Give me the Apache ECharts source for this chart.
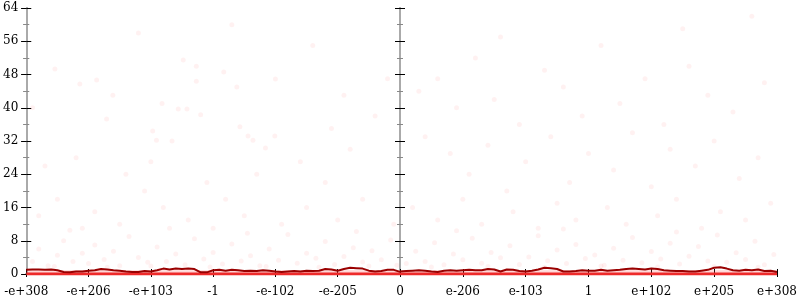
<!DOCTYPE html>
<html><head><meta charset="utf-8">
<script src="https://cdn.jsdelivr.net/npm/echarts@6/dist/echarts.min.js"></script>
<style>html,body{margin:0;padding:0;background:#fff}#c{width:800px;height:300px}</style>
</head><body><div id="c"></div>
<script>
// tick labels
const leftLabels = ["-e+308","-e+206","-e+103","-1","-e-102","-e-205","0"];
const rightLabels = ["0","e-206","e-103","1","e+102","e+205","e+308"];
const yTicks = [0,8,16,24,32,40,48,56,64];
// sampling step of the line (in tick units)
const lineStep = 0.1;
// dark red line, left panel (61 samples across 6 ticks)
const leftLine = [1.0,1.1,1.1,1.0,1.1,0.9,0.5,0.4,0.6,0.6,0.8,0.9,1.2,1.1,0.9,0.8,0.6,0.5,0.5,0.7,
  0.6,0.9,1.3,1.1,1.3,1.2,1.3,1.2,0.4,0.4,0.9,1.0,0.8,1.0,0.9,0.7,0.8,0.7,0.9,0.8,
  0.6,0.5,0.6,0.7,0.6,0.8,0.7,0.8,1.2,1.1,0.8,1.2,1.5,1.4,1.3,0.8,0.6,0.7,1.0,1.0,0.5];
// dark red line, right panel
const rightLine = [0.6,0.7,0.8,0.9,0.8,0.6,0.5,0.8,0.9,0.8,0.9,1.0,0.9,0.9,1.2,1.1,0.6,1.1,1.0,0.7,
  0.6,0.8,1.1,1.5,1.4,1.2,0.6,0.6,0.7,0.9,0.8,0.8,1.0,0.8,0.9,1.0,1.2,1.3,1.2,1.1,
  1.3,1.2,0.9,0.8,0.7,0.7,0.6,0.6,0.8,1.0,1.5,1.6,1.3,0.9,0.8,1.0,0.9,1.1,0.7,0.8,0.5];
// pale band near zero
const bandLevel = 0.9;
// scattered pale points [x (tick units), y]
const leftPoints = [[0.46,49.3],[0.86,45.7],[1.13,46.7],[1.39,43],[2.52,51.5],[2.73,50],[2.73,46.4],[3.17,48.6],
  [3.38,45],[4.0,46.9],[2.18,41],[2.44,39.7],[2.58,39.7],[2.8,38.3],[1.29,37.3],[2.03,34.4],[3.43,35.4],
  [3.56,33.2],[3.64,32.2],[3.99,33.2],[2.09,32.2],[2.34,32],[3.84,30.3],[0.3,26],[0.8,28],[1.6,24],[1.9,20],
  [0.5,18],[1.1,15],[2.9,22],[3.2,18],[4.4,27],[4.8,22],[5.2,30],[5.6,38],[5.1,43],[4.6,55],[5.8,47],
  [0.2,14],[0.9,11],[1.5,12],[2.2,16],[2.6,13],[3.0,11],[3.5,14],[4.1,12],[4.5,16],[5.0,13],[5.4,18],
  [5.9,12],[1.8,58],[3.3,60],[0.1,40],[4.9,35],[2.0,27],[3.7,24],
  [0.1,3],[0.2,6],[0.35,2],[0.5,4.5],[0.6,8],[0.75,3],[0.9,5],[1.0,2.5],[1.1,7],[1.25,3.5],[1.4,5.5],
  [1.5,2],[1.65,9],[1.8,4],[1.95,2.8],[2.1,6.5],[2.25,3],[2.4,4.8],[2.55,2.2],[2.7,8.5],[2.85,3.6],
  [3.0,5.2],[3.15,2.4],[3.3,7.2],[3.45,3.1],[3.6,4.4],[3.75,2],[3.9,6],[4.05,3.3],[4.2,9.5],[4.35,2.6],
  [4.5,5],[4.65,3.8],[4.8,7.8],[4.95,2.3],[5.1,4.2],[5.25,6.3],[5.4,2.9],[5.55,5.6],[5.7,3.4],[5.85,8.2],
  [5.95,2.1],[0.45,1.8],[1.3,1.6],[2.0,1.9],[2.95,1.7],[3.85,1.8],[4.7,1.6],[5.5,1.9],[0.7,10.5],
  [2.3,11],[3.55,9.8],[5.3,10.2]];
const rightPoints = [[0.3,44],[0.6,47],[0.9,40],[1.2,52],[1.5,42],[1.9,36],[2.3,49],[2.6,45],[2.9,38],
  [3.2,55],[3.5,41],[3.9,47],[4.2,36],[4.6,50],[4.9,43],[5.3,39],[5.6,62],[5.8,46],[0.4,33],[0.8,29],
  [1.1,24],[1.4,31],[1.7,20],[2.0,27],[2.4,33],[2.7,22],[3.0,29],[3.4,25],[3.7,34],[4.0,21],[4.3,30],
  [4.7,26],[5.0,32],[5.4,23],[5.7,28],[0.2,16],[0.6,13],[1.0,18],[1.3,12],[1.8,15],[2.2,11],[2.5,17],
  [2.8,13],[3.3,16],[3.6,12],[4.1,14],[4.4,18],[4.8,11],[5.1,15],[5.5,13],[5.9,17],[1.6,57],[4.5,59],
  [0.1,2.5],[0.25,5.5],[0.4,3],[0.55,7.5],[0.7,2.2],[0.85,4.8],[1.0,3.4],[1.15,8.6],[1.3,2.6],[1.45,5.2],
  [1.6,3.9],[1.75,6.8],[1.9,2.3],[2.05,4.1],[2.2,9.2],[2.35,3.2],[2.5,5.8],[2.65,2.5],[2.8,7.1],[2.95,3.7],
  [3.1,4.6],[3.25,2.1],[3.4,6.2],[3.55,3.3],[3.7,8.8],[3.85,2.7],[4.0,5.4],[4.15,3.6],[4.3,7.4],[4.45,2.4],
  [4.6,4.3],[4.75,6.6],[4.9,3.1],[5.05,9.4],[5.2,2.8],[5.35,5.1],[5.5,3.5],[5.65,7.9],[5.8,2.2],[5.95,4.7],
  [0.5,1.7],[1.4,1.8],[2.3,1.6],[3.2,1.9],[4.1,1.7],[5.0,1.8],[5.7,1.6],[0.9,10.4],[2.6,10.8],[4.4,10.1]];

const toPairs = arr => arr.map((v, i) => [+(i * lineStep).toFixed(2), v]);
const flat = (v) => [[0, v], [6, v]];

const gray = '#aaaaaa';
const font = 'DejaVu Serif';
function xAx(grid, labels, hideFirst) {
  return [
    { gridIndex: grid, type: 'value', min: 0, max: 6, interval: 1, position: 'bottom',
      axisLine: { lineStyle: { color: gray, width: 2 } },
      axisTick: { show: true, inside: true, length: 5, lineStyle: { color: '#000', width: 1 } },
      axisLabel: { show: false }, splitLine: { show: false } },
    { gridIndex: grid, type: 'value', min: 0, max: 6, interval: 1, position: 'bottom',
      axisLine: { show: false },
      axisTick: { show: true, inside: false, length: 3, lineStyle: { color: '#000', width: 1 } },
      axisLabel: { show: true, margin: 12, color: '#000', fontFamily: font, fontSize: 12,
        formatter: v => (hideFirst && v === 0) ? '' : (labels[Math.round(v)] || '') },
      splitLine: { show: false } },
    { gridIndex: grid, type: 'value', min: 0, max: 6, position: 'top',
      axisLine: { lineStyle: { color: gray, width: 2 } },
      axisTick: { show: false }, axisLabel: { show: false }, splitLine: { show: false } }
  ];
}
function yAx(grid, position, inside, showLabel, showLine) {
  return { gridIndex: grid, type: 'value', min: 0, max: 64, interval: 8, position: position,
    axisLine: { show: showLine, lineStyle: { color: gray, width: 2 } },
    axisTick: { show: true, inside: inside, length: 5, lineStyle: { color: '#000', width: 1 } },
    minorTick: { show: true, splitNumber: 2, length: 3, lineStyle: { color: '#888', width: 1 } },
    axisLabel: { show: showLabel, margin: 8, color: '#000', fontFamily: font, fontSize: 12,
      formatter: v => yTicks.includes(v) ? String(v) : '' },
    splitLine: { show: false }, minorSplitLine: { show: false } };
}

function panelSeries(xi, yi, points, line) {
  return [
    { type: 'scatter', xAxisIndex: xi, yAxisIndex: yi, data: points, symbolSize: 5,
      itemStyle: { color: 'rgba(255,0,0,0.07)' }, silent: true, z: 1 },
    { type: 'line', xAxisIndex: xi, yAxisIndex: yi, data: flat(bandLevel), symbol: 'none',
      lineStyle: { width: 0 }, areaStyle: { color: 'rgba(255,60,60,0.3)', origin: 'start' }, z: 2 },
    { type: 'line', xAxisIndex: xi, yAxisIndex: yi, data: flat(0), symbol: 'none',
      lineStyle: { width: 3, color: '#ee2a2a' }, z: 3 },
    { type: 'line', xAxisIndex: xi, yAxisIndex: yi, data: toPairs(line), symbol: 'none',
      lineStyle: { width: 2, color: '#9a0000' }, z: 4 }
  ];
}

const chart = echarts.init(document.getElementById('c'), null, { renderer: 'canvas' });
chart.setOption({
  animation: false,
  backgroundColor: '#fff',
  grid: [
    { left: 24, top: 8, width: 376, height: 266 },
    { left: 400, top: 8, width: 378, height: 266 }
  ],
  xAxis: [...xAx(0, leftLabels, false), ...xAx(1, rightLabels, true)],
  yAxis: [
    yAx(0, 'left', false, true, true),
    yAx(0, 'left', true, false, false),
    yAx(0, 'right', true, false, true),
    yAx(1, 'left', true, false, true),
    yAx(1, 'right', true, false, true),
    yAx(1, 'right', false, false, false)
  ],
  series: [...panelSeries(0, 0, leftPoints, leftLine), ...panelSeries(3, 3, rightPoints, rightLine)]
});
</script></body></html>
